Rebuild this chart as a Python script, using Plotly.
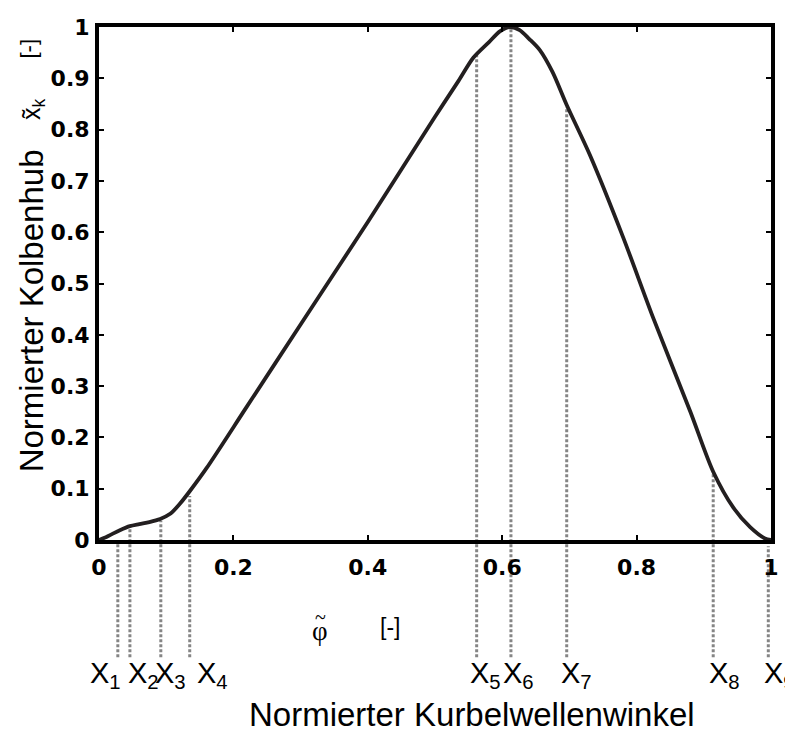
import plotly.graph_objects as go

# ---- data ----
phi = [0, 0.011, 0.02, 0.031, 0.046, 0.06, 0.075, 0.091, 0.106, 0.12, 0.135, 0.16,
       0.22, 0.3, 0.4, 0.5, 0.535, 0.557, 0.58, 0.597, 0.612, 0.626, 0.64, 0.656,
       0.675, 0.696, 0.731, 0.78, 0.825, 0.88, 0.914, 0.944, 0.969, 0.991, 1.0]
stroke = [0, 0.006, 0.012, 0.019, 0.027, 0.031, 0.035, 0.041, 0.051, 0.07, 0.095, 0.14,
          0.26, 0.42, 0.62, 0.825, 0.895, 0.94, 0.97, 0.992, 1.0, 0.994, 0.977, 0.955,
          0.912, 0.848, 0.749, 0.59, 0.432, 0.25, 0.133, 0.063, 0.025, 0.003, 0]

marker_names = ["1", "2", "3", "4", "5", "6", "7", "8", "9"]
marker_phi = [0.028, 0.046, 0.092, 0.135, 0.562, 0.613, 0.696, 0.914, 0.996]
marker_top = [0.0, 0.025, 0.038, 0.086, 0.947, 1.0, 0.844, 0.133, -0.012]

x_tickvals = [0, 0.2, 0.4, 0.6, 0.8, 1]
x_ticktext = ["0", "0.2", "0.4", "0.6", "0.8", "1"]
y_tickvals = [0, 0.1, 0.2, 0.3, 0.4, 0.5, 0.6, 0.7, 0.8, 0.9, 1]
y_ticktext = ["0", "0.1", "0.2", "0.3", "0.4", "0.5", "0.6", "0.7", "0.8", "0.9", "1"]

# ---- layout geometry ----
# The page body has an 8px default margin, so the figure is offset by 8px.
W_FIG, H_FIG = 793, 747
OFF = 8
SX0, SX1, SY0, SY1 = 99, 771, 15, 540      # plot area on screen
L = SX0 - OFF
T = SY0 - OFF
PW = SX1 - SX0
PH = SY1 - SY0
R = W_FIG - L - PW
B = H_FIG - T - PH


def px_x(px):
    return (px - SX0) / PW


def px_y(py):
    return (SY1 - py) / PH


LINE_BOTTOM = px_y(660)
label_shift = [-30, -4, -8, 5, -9, -10, -8, -6, -6]

fig = go.Figure()
fig.add_trace(go.Scatter(
    x=phi, y=stroke, mode="lines",
    line=dict(color="#231f20", width=3.8, shape="spline", smoothing=0.8),
    hoverinfo="skip", showlegend=False,
))

shapes = []
annotations = []
for name, xv, top, sh in zip(marker_names, marker_phi, marker_top, label_shift):
    shapes.append(dict(
        type="line", xref="x", yref="paper", x0=xv, x1=xv, y0=LINE_BOTTOM, y1=top,
        line=dict(color="#858585", width=3, dash="3px,2px"), layer="below",
    ))
    annotations.append(dict(
        xref="x", yref="paper", x=xv, y=px_y(678), xanchor="left", yanchor="middle",
        xshift=sh, showarrow=False,
        text="X<sub>" + name + "</sub>",
        font=dict(family="Liberation Sans, Arial", size=29, color="black"),
    ))

# axis titles
annotations.append(dict(
    xref="paper", yref="paper", x=px_x(472), y=px_y(719), showarrow=False,
    text="Normierter Kurbelwellenwinkel", xanchor="center", yanchor="middle",
    font=dict(family="Liberation Sans, Arial", size=33, color="black"),
))
annotations.append(dict(
    xref="paper", yref="paper", x=px_x(320), y=px_y(633), showarrow=False,
    text="φ", xanchor="center", yanchor="middle",
    font=dict(family="Liberation Serif, Times New Roman", size=27, color="black"),
))
annotations.append(dict(
    xref="paper", yref="paper", x=px_x(320), y=px_y(619), showarrow=False,
    text="~", xanchor="center", yanchor="middle",
    font=dict(family="Liberation Serif, Times New Roman", size=20, color="black"),
))
annotations.append(dict(
    xref="paper", yref="paper", x=px_x(390), y=px_y(629), showarrow=False,
    text="[-]", xanchor="center", yanchor="middle",
    font=dict(family="Liberation Sans, Arial", size=23, color="black"),
))
annotations.append(dict(
    xref="paper", yref="paper", x=px_x(31), y=px_y(306), showarrow=False,
    text="Normierter Kolbenhub", textangle=-90, xanchor="center", yanchor="middle",
    font=dict(family="Liberation Sans, Arial", size=33, color="black"),
))
annotations.append(dict(
    xref="paper", yref="paper", x=px_x(33), y=px_y(99), showarrow=False,
    text="x̃<sub>k</sub>", textangle=-90, xanchor="center", yanchor="middle",
    font=dict(family="Liberation Sans, Arial", size=25, color="black"),
))
annotations.append(dict(
    xref="paper", yref="paper", x=px_x(28), y=px_y(37), showarrow=False,
    text="[-]", textangle=-90, xanchor="center", yanchor="middle",
    font=dict(family="Liberation Sans, Arial", size=22, color="black"),
))

tickfont = dict(family="DejaVu Sans, Verdana", size=22, color="black", weight="bold")
common_axis = dict(
    showgrid=False, zeroline=False, showline=True, linecolor="black", linewidth=4,
    mirror="allticks", ticks="inside", ticklen=5, tickwidth=2, tickcolor="black",
    tickfont=tickfont, fixedrange=True, ticklabeloverflow="allow",
)

fig.update_layout(
    width=W_FIG, height=H_FIG,
    margin=dict(l=L, r=R, t=T, b=B),
    paper_bgcolor="white", plot_bgcolor="rgba(0,0,0,0)",
    xaxis=dict(range=[0, 1], tickvals=x_tickvals, ticktext=x_ticktext,
               ticklabelstandoff=5, **common_axis),
    yaxis=dict(range=[0, 1], tickvals=y_tickvals, ticktext=y_ticktext,
               ticklabelstandoff=1, **common_axis),
    shapes=shapes, annotations=annotations, showlegend=False,
)

fig.write_html("out.html")
